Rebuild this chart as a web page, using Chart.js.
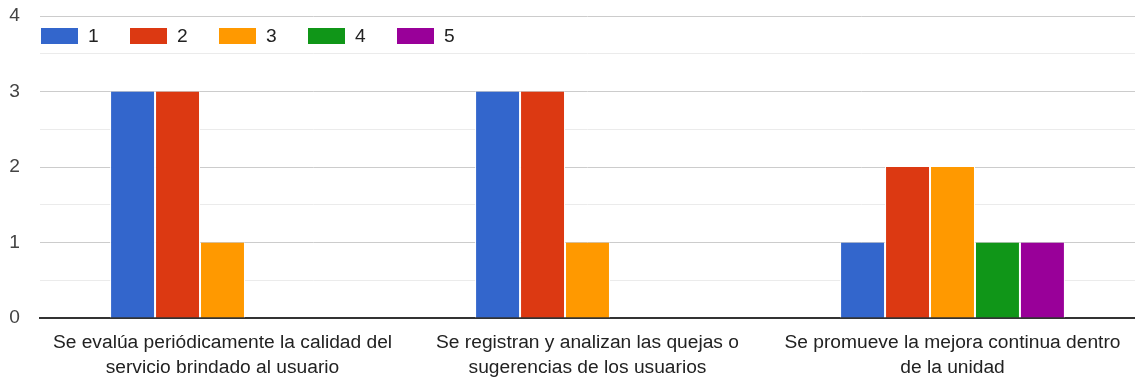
<!DOCTYPE html>
<html>
<head>
<meta charset="utf-8">
<script src="https://cdn.jsdelivr.net/npm/chart.js@4"></script>
<style>
  html, body { margin: 0; padding: 0; background: #fff; }
  #wrap { width: 1135px; height: 379px; position: relative; }
</style>
</head>
<body>
<div id="wrap"><canvas id="c"></canvas></div>
<script>
// Survey statements (x categories), each split over two lines
const categories = [
  ["Se evalúa periódicamente la calidad del", "servicio brindado al usuario"],
  ["Se registran y analizan las quejas o", "sugerencias de los usuarios"],
  ["Se promueve la mejora continua dentro", "de la unidad"]
];
// Rating levels shown in the legend
const ratingLabels = ["1", "2", "3", "4", "5"];
// Number of answers per rating, one entry per statement
const rating1 = [3, 3, 1];
const rating2 = [3, 3, 2];
const rating3 = [1, 1, 2];
const rating4 = [0, 0, 1];
const rating5 = [0, 0, 1];
const yTicks = [0, 1, 2, 3, 4];

const colors = ["#3366cc", "#dc3912", "#ff9900", "#109618", "#990099"];
const series = [rating1, rating2, rating3, rating4, rating5];
const FONT = "Arial, 'Liberation Sans', sans-serif";
const FS = 19.2;

// Legend drawn inside the plot area, between the top gridlines
const insideLegend = {
  id: "insideLegend",
  afterDraw(chart) {
    const ctx = chart.ctx;
    const left = chart.chartArea.left + 1;
    const top = chart.chartArea.top;
    ctx.save();
    ctx.font = FS + "px " + FONT;
    ctx.textBaseline = "middle";
    chart.data.datasets.forEach((ds, i) => {
      const x = left + i * 89;
      ctx.fillStyle = ds.backgroundColor;
      ctx.fillRect(x, top + 12, 37, 16);
      ctx.fillStyle = "#222";
      ctx.fillText(ds.label, x + 47, top + 21);
    });
    ctx.restore();
  }
};

new Chart(document.getElementById("c"), {
  type: "bar",
  data: {
    labels: categories,
    datasets: series.map((vals, i) => ({
      label: ratingLabels[i],
      data: vals,
      backgroundColor: colors[i],
      borderColor: "#ffffff",
      borderWidth: { left: 1, right: 1, top: 0, bottom: 0 },
      borderSkipped: false,
      categoryPercentage: 0.616,
      barPercentage: 1.0
    }))
  },
  options: {
    responsive: true,
    maintainAspectRatio: false,
    animation: false,
    layout: { padding: { top: 16, right: 0, left: 0, bottom: 0 } },
    plugins: {
      legend: { display: false },
      tooltip: { enabled: false }
    },
    scales: {
      x: {
        afterFit(scale) { scale.height = 61; },
        grid: { display: false },
        border: { display: true, color: "#333", width: 2 },
        ticks: {
          color: "#222",
          font: { family: FONT, size: FS, lineHeight: 1.3 },
          padding: 4,
          maxRotation: 0,
          autoSkip: false
        }
      },
      y: {
        min: 0,
        max: 4,
        afterFit(scale) {
          scale.width = 40;
          scale.paddingTop = 0;
          scale.paddingBottom = 0;
        },
        border: { display: false },
        grid: {
          drawTicks: false,
          color: (c) => {
            const v = c.tick.value;
            if (v === 0) return "rgba(0,0,0,0)";
            return yTicks.includes(v) ? "#cccccc" : "#ebebeb";
          }
        },
        ticks: {
          stepSize: 0.5,
          padding: 20,
          color: "#444",
          font: { family: FONT, size: FS },
          callback: (v) => (yTicks.includes(v) ? String(v) : "")
        }
      }
    }
  },
  plugins: [insideLegend]
});
</script>
</body>
</html>
